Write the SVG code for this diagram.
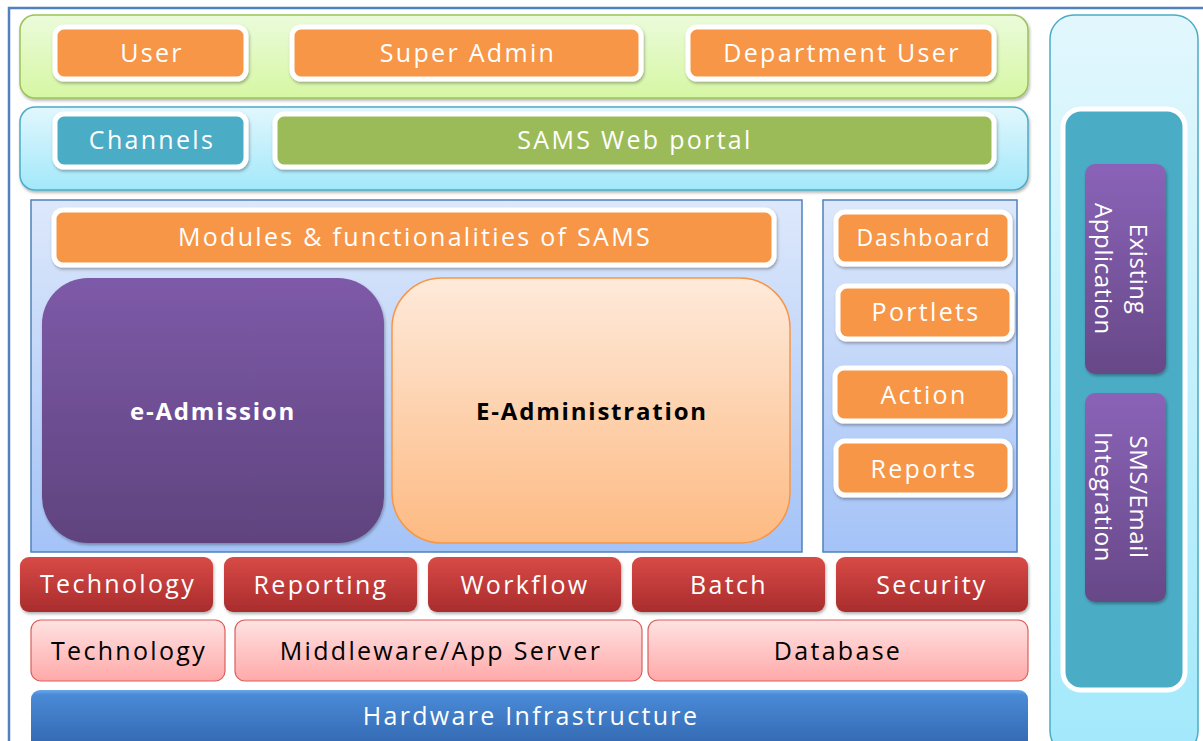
<svg xmlns="http://www.w3.org/2000/svg" width="1203" height="741" viewBox="0 0 1203 741">
  <defs>
    <linearGradient id="gGreenBand" x1="0" y1="0" x2="0" y2="1">
      <stop offset="0" stop-color="#ebfbdb"/><stop offset="1" stop-color="#d6f7a3"/>
    </linearGradient>
    <linearGradient id="gCyanBand" x1="0" y1="0" x2="0" y2="1">
      <stop offset="0" stop-color="#e2f7fd"/><stop offset="1" stop-color="#a2e8fa"/>
    </linearGradient>
    <linearGradient id="gBluePanel" x1="0" y1="0" x2="0" y2="1">
      <stop offset="0" stop-color="#dde8fb"/><stop offset="1" stop-color="#a4c3f7"/>
    </linearGradient>
    <linearGradient id="gPurple" x1="0" y1="0" x2="0" y2="1">
      <stop offset="0" stop-color="#7d5aa8"/><stop offset="1" stop-color="#5f437e"/>
    </linearGradient>
    <linearGradient id="gPurpleSm" x1="0" y1="0" x2="0" y2="1">
      <stop offset="0" stop-color="#8a63b8"/><stop offset="1" stop-color="#674887"/>
    </linearGradient>
    <linearGradient id="gPeach" x1="0" y1="0" x2="0" y2="1">
      <stop offset="0" stop-color="#feeadb"/><stop offset="1" stop-color="#fdba82"/>
    </linearGradient>
    <linearGradient id="gRed" x1="0" y1="0" x2="0" y2="1">
      <stop offset="0" stop-color="#d84a47"/><stop offset="1" stop-color="#a92c2c"/>
    </linearGradient>
    <linearGradient id="gPink" x1="0" y1="0" x2="0" y2="1">
      <stop offset="0" stop-color="#ffe2e2"/><stop offset="1" stop-color="#ffa9a9"/>
    </linearGradient>
    <linearGradient id="gHw" x1="0" y1="0" x2="0" y2="1">
      <stop offset="0" stop-color="#6aa8ea"/><stop offset="0.08" stop-color="#4a8ad6"/><stop offset="1" stop-color="#3165ae"/>
    </linearGradient>
    <linearGradient id="gSide" x1="0" y1="0" x2="0" y2="1">
      <stop offset="0" stop-color="#e2f7fd"/><stop offset="1" stop-color="#a2e9fb"/>
    </linearGradient>
    <filter id="shadow" x="-10%" y="-10%" width="120%" height="130%">
      <feDropShadow dx="1" dy="2" stdDeviation="1.5" flood-color="#000" flood-opacity="0.3"/>
    </filter>
  </defs>
  <style>
    .lbl { font-family: "Open Sans", "Noto Sans", sans-serif; font-size: 25px; letter-spacing: 2.3px; fill: #ffffff; text-anchor: middle; dominant-baseline: central; }
    .dark { fill: #000000; }
    .bold { font-weight: bold; font-size: 24px; letter-spacing: 1.8px; }
    .small { font-size: 23px; letter-spacing: 1.8px; }
    .vert { font-size: 24px; letter-spacing: 0.6px; }
    .orange { fill: #f79646; stroke: #ffffff; stroke-width: 5; filter: url(#shadow); }
    .teal { fill: #4bacc6; stroke: #ffffff; stroke-width: 5; filter: url(#shadow); }
    .olive { fill: #9bbb59; stroke: #ffffff; stroke-width: 5; filter: url(#shadow); }
    .red { fill: url(#gRed); filter: url(#shadow); }
    .pink { fill: url(#gPink); stroke: #d9605c; stroke-width: 1.2; }
  </style>

  <!-- outer frame -->
  <rect x="9" y="8" width="1220" height="760" fill="#ffffff" stroke="#4f81bd" stroke-width="2.5"/>

  <!-- user layer -->
  <g id="users-layer">
    <rect x="20" y="15" width="1008" height="83" rx="15" fill="url(#gGreenBand)" stroke="#9bc25a" stroke-width="1.5" filter="url(#shadow)"/>
  </g>
  <g id="user">
    <rect class="orange" x="55" y="27" width="191" height="52" rx="9"/>
    <text class="lbl" x="152" y="52">User</text>
  </g>
  <g id="super-admin">
    <rect class="orange" x="292" y="27" width="349" height="52" rx="9"/>
    <text class="lbl" x="468" y="52">Super Admin</text>
  </g>
  <g id="department-user">
    <rect class="orange" x="688" y="27" width="306" height="52" rx="9"/>
    <text class="lbl" x="842" y="52">Department User</text>
  </g>

  <!-- channels layer -->
  <g id="channels-layer">
    <rect x="20" y="107" width="1008" height="83" rx="15" fill="url(#gCyanBand)" stroke="#4bacc6" stroke-width="1.5" filter="url(#shadow)"/>
  </g>
  <g id="channels">
    <rect class="teal" x="55" y="114" width="191" height="53" rx="9"/>
    <text class="lbl" x="152" y="139">Channels</text>
  </g>
  <g id="sams-web-portal">
    <rect class="olive" x="275" y="114" width="719" height="53" rx="9"/>
    <text class="lbl" x="635" y="139">SAMS Web portal</text>
  </g>

  <!-- modules panel -->
  <g id="modules-panel">
    <rect x="31" y="200" width="771" height="352" fill="url(#gBluePanel)" stroke="#4f81bd" stroke-width="1.5"/>
  </g>
  <g id="modules">
    <rect class="orange" x="54" y="210" width="720" height="55" rx="9"/>
    <text class="lbl" x="415" y="236">Modules &amp; functionalities of SAMS</text>
  </g>
  <g id="e-admission">
    <rect x="42" y="278" width="342" height="265" rx="46" fill="url(#gPurple)" filter="url(#shadow)"/>
    <text class="lbl bold" x="213" y="410">e-Admission</text>
  </g>
  <g id="e-administration">
    <rect x="392" y="278" width="398" height="265" rx="50" fill="url(#gPeach)" stroke="#f79646" stroke-width="1.5"/>
    <text class="lbl bold dark" x="592" y="410">E-Administration</text>
  </g>

  <!-- dashboard panel -->
  <g id="dashboard-panel">
    <rect x="823" y="200" width="194" height="352" fill="url(#gBluePanel)" stroke="#4f81bd" stroke-width="1.5"/>
  </g>
  <g id="dashboard">
    <rect class="orange" x="836" y="212" width="174" height="52" rx="9"/>
    <text class="lbl small" x="924" y="237">Dashboard</text>
  </g>
  <g id="portlets">
    <rect class="orange" x="838" y="286" width="174" height="53" rx="9"/>
    <text class="lbl" x="926" y="311">Portlets</text>
  </g>
  <g id="action">
    <rect class="orange" x="835" y="368" width="175" height="53" rx="9"/>
    <text class="lbl" x="924" y="394">Action</text>
  </g>
  <g id="reports">
    <rect class="orange" x="836" y="441" width="174" height="54" rx="9"/>
    <text class="lbl" x="924" y="468">Reports</text>
  </g>

  <!-- services row -->
  <g id="technology-service">
    <rect class="red" x="20" y="557" width="193" height="55" rx="9"/>
    <text class="lbl" x="118" y="583">Technology</text>
  </g>
  <g id="reporting">
    <rect class="red" x="224" y="557" width="193" height="55" rx="9"/>
    <text class="lbl" x="321" y="584">Reporting</text>
  </g>
  <g id="workflow">
    <rect class="red" x="428" y="557" width="193" height="55" rx="9"/>
    <text class="lbl" x="525" y="584">Workflow</text>
  </g>
  <g id="batch">
    <rect class="red" x="632" y="557" width="193" height="55" rx="9"/>
    <text class="lbl" x="729" y="584">Batch</text>
  </g>
  <g id="security">
    <rect class="red" x="836" y="557" width="192" height="55" rx="9"/>
    <text class="lbl" x="932" y="584">Security</text>
  </g>

  <!-- platform row -->
  <g id="technology-platform">
    <rect class="pink" x="31" y="620" width="194" height="61" rx="10"/>
    <text class="lbl dark" x="129" y="650">Technology</text>
  </g>
  <g id="middleware">
    <rect class="pink" x="235" y="620" width="407" height="61" rx="10"/>
    <text class="lbl dark" x="441" y="650">Middleware/App Server</text>
  </g>
  <g id="database">
    <rect class="pink" x="648" y="620" width="380" height="61" rx="10"/>
    <text class="lbl dark" x="838" y="650">Database</text>
  </g>

  <!-- infrastructure -->
  <g id="hardware-infrastructure">
    <rect x="31" y="690" width="997" height="60" rx="9" fill="url(#gHw)"/>
    <text class="lbl" x="531" y="715">Hardware Infrastructure</text>
  </g>

  <!-- integration column -->
  <g id="integration-column">
    <rect x="1050" y="15" width="148" height="740" rx="24" fill="url(#gSide)" stroke="#4bacc6" stroke-width="1.5"/>
  </g>
  <g id="integration-panel">
    <rect x="1063" y="109" width="122" height="581" rx="18" fill="#4bacc6" stroke="#ffffff" stroke-width="5"/>
  </g>
  <g id="existing-application">
    <rect x="1085" y="164" width="81" height="210" rx="10" fill="url(#gPurpleSm)" filter="url(#shadow)"/>
    <text class="lbl vert" transform="translate(1123,269) rotate(90)"><tspan x="0" y="-17">Existing</tspan><tspan x="0" y="18">Application</tspan></text>
  </g>
  <g id="sms-email-integration">
    <rect x="1085" y="393" width="81" height="209" rx="10" fill="url(#gPurpleSm)" filter="url(#shadow)"/>
    <text class="lbl vert" transform="translate(1123,497) rotate(90)"><tspan x="0" y="-17">SMS/Email</tspan><tspan x="0" y="18">Integration</tspan></text>
  </g>

  <!-- no connectors in this layered view -->
  <g id="connectors"/>
</svg>
